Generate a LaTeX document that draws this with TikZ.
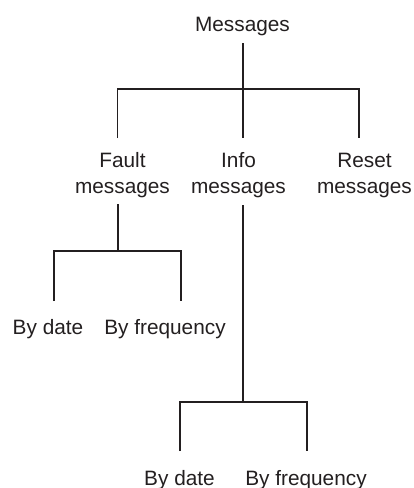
\documentclass[tikz,border=0pt]{standalone}
\usepackage{fontspec}
\setmainfont{Liberation Sans}
\definecolor{ink}{HTML}{231F20}
\begin{document}
\begin{tikzpicture}[x=1pt,y=-1pt,
  lbl/.style={inner sep=0pt,anchor=base,text=ink,font=\fontsize{20.8}{26}\selectfont,align=center},
  conn/.style={draw=ink,line width=1.7pt}]
\useasboundingbox (0,0) rectangle (414,488);
% labels
\node[lbl] (msg) at (242.5,31.5) {Messages};
\node[lbl] (fault) at (122.5,193) {Fault\\messages};
\node[lbl] (info) at (238.5,193) {Info\\messages};
\node[lbl] (reset) at (364.5,193) {Reset\\messages};
\node[lbl] (fdate) at (48,334) {By date};
\node[lbl] (ffreq) at (165,334) {By frequency};
\node[lbl] (idate) at (179.5,485) {By date};
\node[lbl] (ifreq) at (306,485) {By frequency};
% connector points
\coordinate (msgB) at (243,43);
\coordinate (j1) at (243,89);
\coordinate (faultT) at (117.5,138);
\coordinate (infoT) at (243,138);
\coordinate (resetT) at (359,138);
\coordinate (faultB) at (118,204);
\coordinate (j2) at (118,251);
\coordinate (fdateT) at (54,301);
\coordinate (ffreqT) at (181,301);
\coordinate (infoB) at (243,205);
\coordinate (j3) at (243,402);
\coordinate (idateT) at (180,451);
\coordinate (ifreqT) at (307,451);
% connectors
\draw[conn] (msgB) -- (j1);
\draw[conn] (faultT) |- (j1) -| (resetT);
\draw[conn] (j1) -- (infoT);
\draw[conn] (faultB) -- (j2);
\draw[conn] (fdateT) |- (j2) -| (ffreqT);
\draw[conn] (infoB) -- (j3);
\draw[conn] (idateT) |- (j3) -| (ifreqT);
\end{tikzpicture}
\end{document}
